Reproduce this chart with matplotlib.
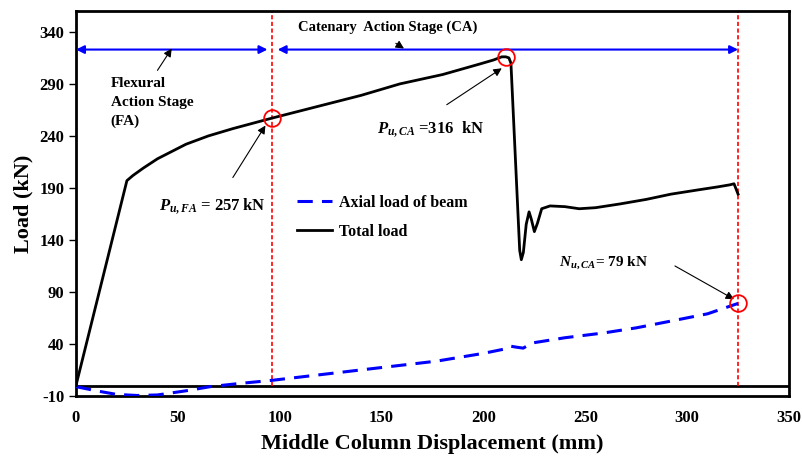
import numpy as np
import matplotlib.pyplot as plt

plt.rcParams['font.family'] = 'Liberation Serif'
plt.rcParams['font.weight'] = 'bold'
plt.rcParams['axes.unicode_minus'] = False
plt.rcParams['mathtext.fontset'] = 'custom'
plt.rcParams['mathtext.rm'] = 'Liberation Serif:bold'
plt.rcParams['mathtext.it'] = 'Liberation Serif:bold:italic'

# total load vs. middle column displacement
disp_total = [0, 25, 28, 33, 40, 54, 65, 77, 96, 118, 140, 159, 180, 198, 205, 209, 211,
              212.5, 213.5, 217.8, 218.6, 219.6, 221, 222.4, 223.5, 225, 226.5, 228.6,
              232.7, 240, 247, 255, 267, 280, 292, 305, 315, 321, 323, 325]
load_total = [0, 197, 202, 209, 218, 232, 240, 247, 257, 268, 279, 290, 299, 309, 313, 316, 316,
              315, 310, 130, 121, 128, 155, 167, 160, 148, 156, 170,
              172.7, 172, 170, 171, 174.6, 179, 184, 188, 191, 193, 194, 184]

# axial load of beam
disp_axial = [0, 10, 20, 30, 40, 54, 66, 80, 96, 120, 144, 177, 200, 210, 213, 216, 219.5,
              224, 240, 259, 275, 292, 310, 325]
load_axial = [-1, -5, -8.5, -9.5, -9, -5, -1, 2, 5, 10.5, 16, 23.5, 31, 35, 38, 37, 36,
              41, 46, 50.6, 55.5, 62, 69, 79]

# key points
p_fa = (96, 257)
p_ca = (211, 316)
n_ca = (325, 79)
stage_y = 323

fig = plt.figure(figsize=(8.03, 4.61), dpi=100)
ax = fig.add_axes([0.0946, 0.141, 0.888, 0.835])

ax.axhline(0, color='black', lw=2, zorder=2)
ax.plot(disp_axial, load_axial, color='blue', lw=2.2, dashes=(5, 3), label='Axial load of beam',
        solid_joinstyle='round', dash_joinstyle='round', zorder=3)
ax.plot(disp_total, load_total, color='black', lw=2, label='Total load',
        solid_joinstyle='round', zorder=3)

# stage boundaries
for xv in (p_fa[0], n_ca[0]):
    ax.plot([xv, xv], [0, 360], color='red', lw=1.2, dashes=(2.5, 1.5), zorder=2)

# red circles on key points
for px, py in (p_fa, p_ca, n_ca):
    ax.plot(px, py, 'o', ms=12, mfc='none', mec='red', mew=1.3, zorder=4)

# stage arrows
arrow = dict(arrowstyle='<|-|>', color='blue', lw=1.5, mutation_scale=12, shrinkA=0, shrinkB=0)
ax.annotate('', xy=(0, stage_y), xytext=(94, stage_y), arrowprops=arrow)
ax.annotate('', xy=(99, stage_y), xytext=(325, stage_y), arrowprops=arrow)

thin = dict(arrowstyle='-|>', color='black', lw=0.8, mutation_scale=12, shrinkA=0, shrinkB=0)
ax.text(17, 297, 'Flexural\nAction Stage\n(FA)', fontsize=11, fontweight='bold',
        va='top', ha='left', linespacing=1.6)
ax.annotate('', xy=(47, stage_y + 1), xytext=(40, 303), arrowprops=thin)
ax.text(109, 344.5, 'Catenary  Action Stage (CA)', fontsize=10.5, fontweight='bold',
        va='center', ha='left')
ax.annotate('', xy=(161, stage_y + 1), xytext=(157, 329), arrowprops=thin)

ax.text(41, 173, r'$P_{u,FA}$ = 257 kN', fontsize=12, va='center', ha='left')
ax.annotate('', xy=(93, 250), xytext=(77, 200), arrowprops=thin)
ax.text(148, 247, r'$P_{u,CA}$ =316  kN', fontsize=12, va='center', ha='left')
ax.annotate('', xy=(209, 305), xytext=(182, 270), arrowprops=thin)
ax.text(237, 118, r'$N_{u,CA}$= 79 kN', fontsize=11, va='center', ha='left')
ax.annotate('', xy=(323, 83), xytext=(294, 115), arrowprops=thin)

ax.legend(loc='upper left', bbox_to_anchor=(0.29, 0.56), frameon=False, fontsize=11.5,
          handlelength=2.2, handletextpad=0.4, labelspacing=0.8)

ax.set_xlim(0, 350)
ax.set_ylim(-10, 360)
ax.set_xticks(np.arange(0, 351, 50))
ax.set_yticks(np.arange(-10, 341, 50))
ax.tick_params(axis='x', length=0, pad=10, labelsize=12)
ax.tick_params(axis='y', direction='out', length=5, width=1, labelsize=12)
for s in ax.spines.values():
    s.set_linewidth(2)

ax.set_xlabel('Middle Column Displacement (mm)', fontsize=16, fontweight='bold', labelpad=6)
ax.set_ylabel('Load (kN)', fontsize=16, fontweight='bold', labelpad=4)

fig.savefig('out.png', dpi=100)
